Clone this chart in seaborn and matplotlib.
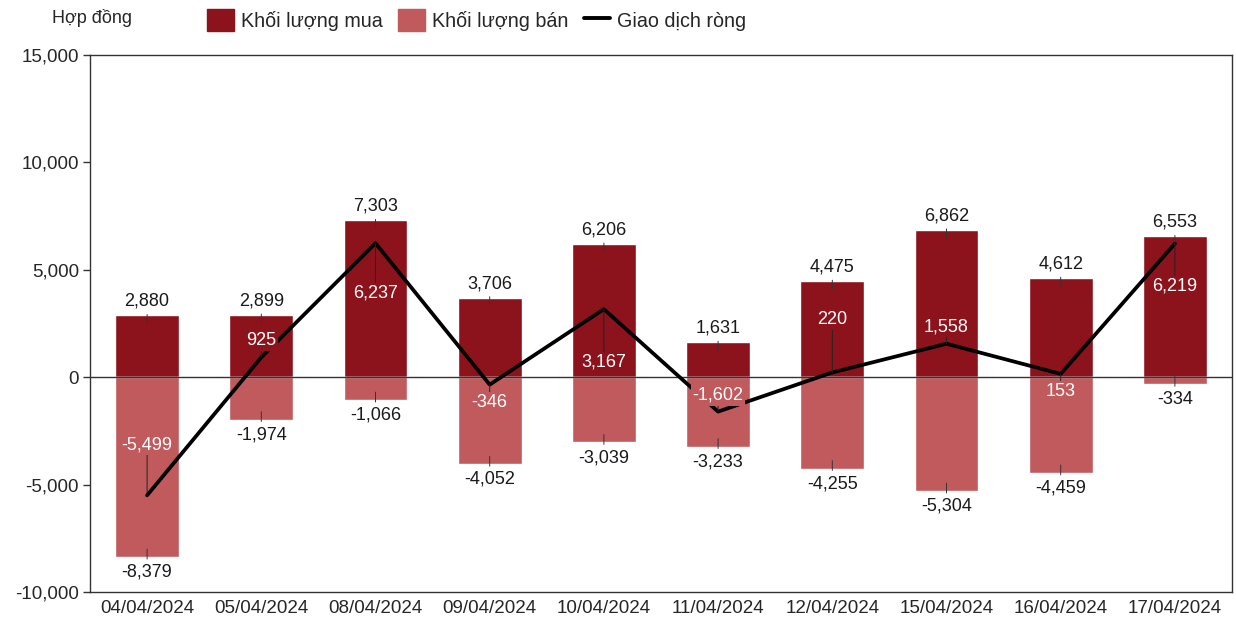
import numpy as np
import pandas as pd
import matplotlib
matplotlib.use('Agg')
import matplotlib.pyplot as plt
from matplotlib.patches import Patch
from matplotlib.lines import Line2D
import seaborn as sns

# Data
dates = ['04/04/2024', '05/04/2024', '08/04/2024', '09/04/2024', '10/04/2024',
         '11/04/2024', '12/04/2024', '15/04/2024', '16/04/2024', '17/04/2024']
buy = [2880, 2899, 7303, 3706, 6206, 1631, 4475, 6862, 4612, 6553]
sell = [-8379, -1974, -1066, -4052, -3039, -3233, -4255, -5304, -4459, -334]
net = [-5499, 925, 6237, -346, 3167, -1602, 220, 1558, 153, 6219]

# where the net labels sit (layout only)
net_label_y = [-3150, 1720, 3900, -1160, 700, -840, 2700, 2330, -650, 4230]

buy_color = '#8C131C'
sell_color = '#C05A5C'

sns.set_style('white')
plt.rcParams['font.family'] = ['Liberation Sans', 'DejaVu Sans']

df = pd.DataFrame({'date': dates, 'buy': buy, 'sell': sell, 'net': net})

fig = plt.figure(figsize=(12.36, 6.22), dpi=100)
ax = fig.add_axes([90 / 1236, 1 - 592 / 622, 1142 / 1236, 537 / 622])

sns.barplot(data=df, x='date', y='buy', color=buy_color, saturation=1, width=0.56, ax=ax, zorder=2)
sns.barplot(data=df, x='date', y='sell', color=sell_color, saturation=1, width=0.56, ax=ax, zorder=2)
ax.axhline(0, color='#333333', lw=1, zorder=3)
sns.lineplot(x=np.arange(len(dates)), y=df['net'], color='black', lw=2.7, ax=ax, zorder=4)

fs = 13
lead = dict(arrowstyle='-', lw=0.7, color='#333333', shrinkA=1, shrinkB=0)
for i in range(len(dates)):
    ax.annotate(f'{buy[i]:,}', xy=(i, buy[i] - 370), xytext=(0, 22), textcoords='offset pixels',
                ha='center', va='center', fontsize=fs, color='#1a1a1a', arrowprops=lead, zorder=5)
    ax.annotate(f'{sell[i]:,}', xy=(i, sell[i] + 370), xytext=(0, -23), textcoords='offset pixels',
                ha='center', va='center', fontsize=fs, color='#1a1a1a', arrowprops=lead, zorder=5)
    bg = buy_color if net_label_y[i] > 0 else sell_color
    ax.annotate(f'{net[i]:,}', xy=(i, net[i]), xytext=(i, net_label_y[i]), textcoords='data',
                ha='center', va='center', fontsize=fs, color='white',
                bbox=dict(boxstyle='square,pad=0.1', fc=bg, ec='none'),
                arrowprops=dict(arrowstyle='-', lw=0.7, color='#222222', shrinkA=0, shrinkB=0),
                zorder=6)

ax.set_ylim(-10000, 15000)
ax.set_xlim(-0.5, len(dates) - 0.5)
ax.set_yticks(range(-10000, 15001, 5000))
ax.set_yticklabels([f'{v:,}' for v in range(-10000, 15001, 5000)])
ax.set_xlabel('')
ax.set_ylabel('')
ax.tick_params(axis='y', length=5, width=1, color='#333333', labelsize=13.5, pad=3, left=True)
ax.tick_params(axis='x', length=0, labelsize=13.5, pad=6)
for s in ax.spines.values():
    s.set_color('#333333')
    s.set_linewidth(1)

fig.text(52 / 1236, 1 - 18 / 622, 'Hợp đồng', fontsize=13, ha='left', va='center')
handles = [Patch(color=buy_color, label='Khối lượng mua'),
           Patch(color=sell_color, label='Khối lượng bán'),
           Line2D([0], [0], color='black', lw=2.8, label='Giao dịch ròng')]
fig.legend(handles=handles, loc='center left', bbox_to_anchor=(207 / 1236, 1 - 20 / 622), ncol=3,
           frameon=False, fontsize=14.2, handlelength=1.35, handleheight=1.35, handletextpad=0.35,
           columnspacing=0.8, borderaxespad=0, borderpad=0)

fig.savefig('out.png', dpi=100)
